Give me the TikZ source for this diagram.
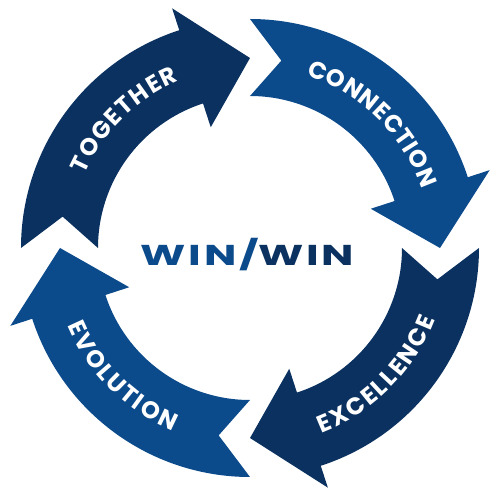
\documentclass[tikz,border=0pt]{standalone}
\usepackage{fontspec}
\usetikzlibrary{decorations.text}
\newfontfamily\popfont{Poppins}
\newfontfamily\popwide{Poppins}[LetterSpace=6]
\definecolor{navy}{HTML}{0A3160}
\definecolor{midblue}{HTML}{0B4A8B}
\newcommand\cyclearrow[2]{%
  \fill[#2] (#1:229) arc[start angle=#1, end angle=#1-72, radius=229]
    -- (#1-72:252) -- (#1-90:190) -- (#1-72:127) -- (#1-72:152)
    arc[start angle=#1-72, end angle=#1, radius=152]
    -- (#1-9.5:190) -- cycle;}
\newcommand\lblfont{\popfont\bfseries\fontsize{24pt}{24pt}\selectfont\color{white}}
\tikzset{
  lbl/.style={decorate, decoration={text along path, text align=fit to path, text={|\lblfont|#1}}}
}
\begin{document}
\begin{tikzpicture}[x=1pt,y=1pt]
\useasboundingbox (-250,-252) rectangle (250,248);
\cyclearrow{180}{navy}
\cyclearrow{90}{midblue}
\cyclearrow{0}{navy}
\cyclearrow{270}{midblue}
\path[lbl=TOGETHER] (156:181.5) arc[start angle=156, end angle=113, radius=181.5];
\path[lbl=CONNECTION] (72:181.5) arc[start angle=72, end angle=19, radius=181.5];
\path[lbl=EXCELLENCE] (-69:198.5) arc[start angle=-69, end angle=-21, radius=198.5];
\path[lbl=EVOLUTION] (203:198.5) arc[start angle=203, end angle=247, radius=198.5];
\node (win) at (-2.5,-7) {\scalebox{1.5}[1]{\popwide\bfseries\fontsize{28.7pt}{28.7pt}\selectfont\textcolor{midblue}{WIN/}\textcolor{navy}{WIN}}};
\end{tikzpicture}
\end{document}
